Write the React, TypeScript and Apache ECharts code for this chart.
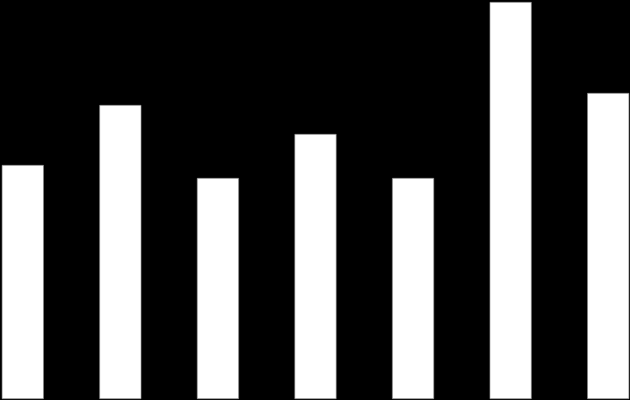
import React, { useEffect, useRef } from "react";
import * as echarts from "echarts";

const categories = ["A", "B", "C", "D", "E", "F", "G"];
const values = [234, 294, 221, 265, 221, 397, 306];
const yMax = 397;

export default function App() {
  const ref = useRef<HTMLDivElement>(null);
  useEffect(() => {
    if (!ref.current) return;
    const chart = echarts.init(ref.current, undefined, { renderer: "svg" });
    chart.setOption({
      animation: false,
      backgroundColor: "#000000",
      grid: { left: 0, right: 0, top: 2, bottom: 1, containLabel: false },
      xAxis: {
        type: "category",
        data: categories,
        show: false,
        boundaryGap: true,
      },
      yAxis: {
        type: "value",
        min: 0,
        max: yMax,
        show: false,
        splitLine: { show: false },
      },
      series: [
        {
          type: "bar",
          data: values,
          barWidth: 42,
          itemStyle: { color: "#ffffff", borderColor: "#888888", borderWidth: 0.6 },
        },
      ],
    });
    return () => chart.dispose();
  }, []);
  return (
    <div style={{ position: "fixed", left: 0, top: 0, width: 630, height: 400, background: "#000", overflow: "hidden" }}>
      <div
        ref={ref}
        style={{ position: "absolute", left: -25.75, top: 0, width: 682.5, height: 400 }}
      />
    </div>
  );
}
